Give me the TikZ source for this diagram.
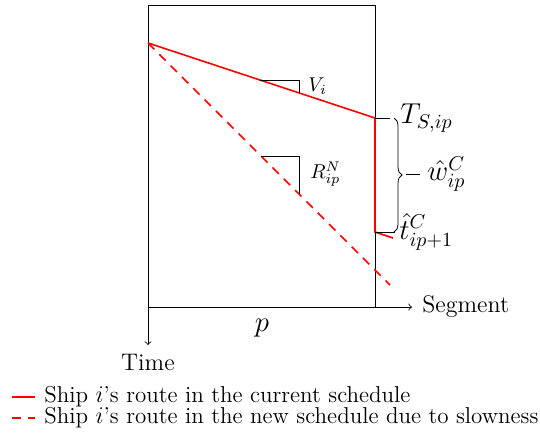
\documentclass[tikz,border=0pt]{standalone}
\usetikzlibrary{decorations.pathreplacing}
\begin{document}
\begin{tikzpicture}[x=0.5pt,y=-0.5pt,
  route/.style={red,thick},
  newroute/.style={red,thick,dash pattern=on 4.5pt off 3.5pt},
  thin line/.style={black,line width=0.4pt},
  lbl/.style={inner sep=1pt},
  legtext/.style={inner sep=1pt,anchor=west,font=\fontsize{11.5}{13.5}\selectfont}]
\useasboundingbox (0,0) rectangle (540,434);
% coordinates
\coordinate (O) at (148,307);
\coordinate (TL) at (148,5);
\coordinate (TR) at (375,5);
\coordinate (BR) at (375,307);
\coordinate (A) at (148,43);
\coordinate (B) at (375,118);
\coordinate (C) at (375,232);
\coordinate (D) at (393,238);
\coordinate (E) at (390,285);
\coordinate (SegEnd) at (412,307);
\coordinate (TimeEnd) at (148,345);
% box
\draw[thin line] (O) -- (TL) -- (TR) -- (BR);
% axes
\draw[thin line,->] (O) -- (SegEnd);
\draw[thin line,->] (O) -- (TimeEnd);
\node[lbl,anchor=west,font=\large] (seg) at (420,307) {Segment};
\node[lbl,font=\large] (time) at (148,362) {Time};
\node[lbl,font=\Large] (p) at (262,328) {$p$};
% routes
\draw[route] (A) -- (B) -- (C) -- (D);
\draw[newroute] (A) -- (E);
% slope triangles
\coordinate (v1) at (260,80);
\coordinate (v2) at (299,80);
\coordinate (v3) at (299,92.9);
\draw[thin line] (v1) -- (v2) -- (v3);
\node[lbl,anchor=west] (vi) at (306,86) {$V_i$};
\coordinate (r1) at (261,156);
\coordinate (r2) at (299,156);
\coordinate (r3) at (299,194);
\draw[thin line] (r1) -- (r2) -- (r3);
\node[lbl,anchor=west] (rip) at (308,174) {$R^N_{ip}$};
% labels on the right
\coordinate (Bt) at (390,118);
\draw[thin line] (B) -- (Bt);
\node[lbl,anchor=west,font=\Large] (ts) at (398,118) {$T_{S,ip}$};
\coordinate (br1) at (394,118);
\coordinate (br2) at (394,232);
\draw[thin line,decorate,decoration={brace,amplitude=4pt}] (br1) -- (br2);
\coordinate (w1) at (406,174);
\coordinate (w2) at (420,174);
\draw[thin line] (w1) -- (w2);
\node[lbl,anchor=west,font=\Large] (what) at (425,174) {$\hat{w}^C_{ip}$};
\coordinate (Ct) at (395,232);
\draw[thin line] (C) -- (Ct);
\node[lbl,anchor=west,font=\Large] (that) at (397,232) {$\hat{t}^C_{ip+1}$};
% legend
\coordinate (l1a) at (12,397);
\coordinate (l1b) at (35,397);
\coordinate (l2a) at (12,418);
\coordinate (l2b) at (35,418);
\draw[route] (l1a) -- (l1b);
\draw[newroute] (l2a) -- (l2b);
\node[legtext] (leg1) at (42,397) {Ship $i$'s route in the current schedule};
\node[legtext] (leg2) at (42,418) {Ship $i$'s route in the new schedule due to slowness};
\end{tikzpicture}
\end{document}
